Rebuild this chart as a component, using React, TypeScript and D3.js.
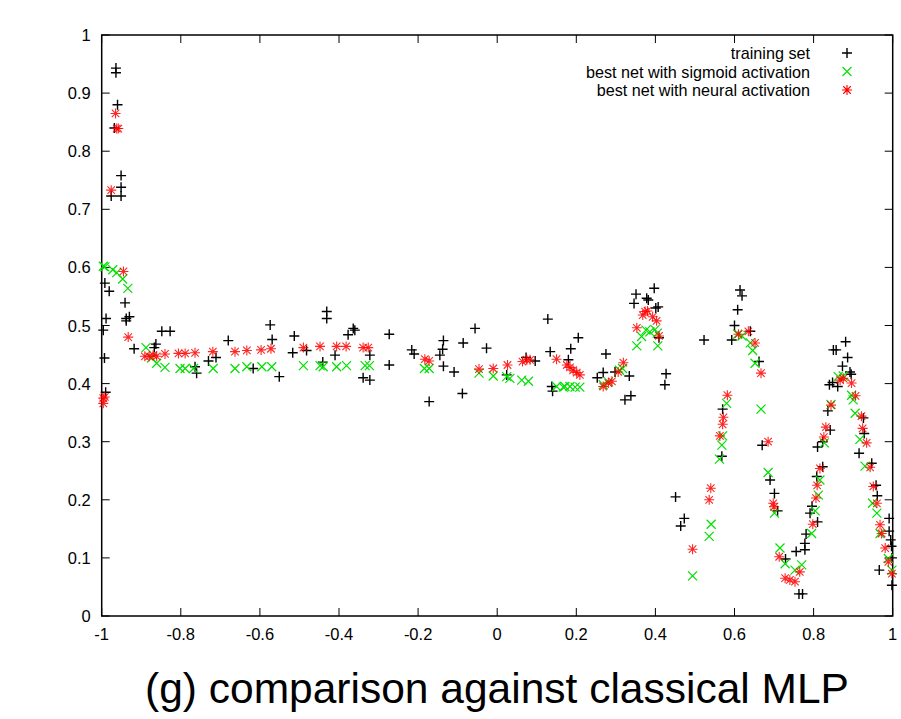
import { useEffect, useRef } from 'react';
import * as d3 from 'd3';

// training set (black +)
const trainingSet: [number, number][] = [
  [-0.964, 0.943], [-0.964, 0.935], [-0.960, 0.880], [-0.968, 0.840], [-0.951, 0.758], [-0.951, 0.738],
  [-0.976, 0.723], [-0.951, 0.723], [-0.992, 0.573], [-0.981, 0.559], [-0.941, 0.539], [-0.989, 0.512],
  [-0.938, 0.512], [-0.930, 0.515], [-0.938, 0.508], [-0.996, 0.492], [-0.918, 0.460], [-0.993, 0.444],
  [-0.990, 0.385], [-0.848, 0.490], [-0.827, 0.490], [-0.863, 0.468], [-0.867, 0.462], [-0.764, 0.429],
  [-0.760, 0.418], [-0.730, 0.439], [-0.711, 0.445], [-0.680, 0.474], [-0.617, 0.426], [-0.574, 0.501],
  [-0.569, 0.476], [-0.551, 0.412], [-0.513, 0.482], [-0.517, 0.453], [-0.482, 0.457], [-0.441, 0.437],
  [-0.431, 0.524], [-0.431, 0.512], [-0.410, 0.449], [-0.377, 0.484], [-0.364, 0.495], [-0.360, 0.492],
  [-0.339, 0.410], [-0.322, 0.406], [-0.322, 0.449], [-0.273, 0.485], [-0.273, 0.432], [-0.216, 0.458],
  [-0.210, 0.451], [-0.172, 0.369], [-0.136, 0.474], [-0.138, 0.459], [-0.145, 0.449], [-0.136, 0.430],
  [-0.109, 0.420], [-0.086, 0.470], [-0.088, 0.383], [-0.056, 0.495], [-0.027, 0.461], [0.024, 0.415],
  [0.073, 0.445], [0.096, 0.439], [0.128, 0.511], [0.134, 0.455], [0.138, 0.395], [0.140, 0.387],
  [0.186, 0.460], [0.205, 0.479], [0.180, 0.441], [0.253, 0.410], [0.275, 0.451], [0.268, 0.419],
  [0.298, 0.420], [0.334, 0.413], [0.323, 0.372], [0.338, 0.379], [0.346, 0.538], [0.351, 0.554],
  [0.378, 0.547], [0.382, 0.544], [0.397, 0.564], [0.401, 0.530], [0.407, 0.532], [0.409, 0.479],
  [0.427, 0.417], [0.424, 0.398], [0.451, 0.205], [0.473, 0.168], [0.464, 0.155],
  [0.523, 0.475], [0.593, 0.475], [0.600, 0.500], [0.608, 0.527], [0.614, 0.561], [0.619, 0.551],
  [0.640, 0.490], [0.662, 0.438], [0.670, 0.294], [0.570, 0.356], [0.568, 0.275], [0.690, 0.234],
  [0.701, 0.211], [0.709, 0.181], [0.729, 0.098], [0.756, 0.111], [0.778, 0.114], [0.778, 0.125],
  [0.781, 0.141], [0.763, 0.038], [0.772, 0.038], [0.810, 0.162], [0.791, 0.177], [0.796, 0.189],
  [0.808, 0.240], [0.823, 0.257], [0.810, 0.291], [0.823, 0.300], [0.836, 0.353], [0.842, 0.320],
  [0.840, 0.398], [0.848, 0.402], [0.850, 0.458], [0.857, 0.458], [0.881, 0.472], [0.886, 0.445],
  [0.873, 0.430], [0.892, 0.420], [0.895, 0.416], [0.861, 0.395], [0.915, 0.280], [0.926, 0.341],
  [0.928, 0.314], [0.947, 0.263], [0.958, 0.225], [0.961, 0.207], [0.991, 0.168], [0.991, 0.146],
  [0.995, 0.131], [0.966, 0.079], [0.998, 0.053], [0.997, 0.120], [0.998, 0.100],
];

// best net with sigmoid activation (green x)
const sigmoidNet: [number, number][] = [
  [-0.996, 0.602], [-0.992, 0.601], [-0.972, 0.596], [-0.962, 0.591], [-0.947, 0.580], [-0.934, 0.564],
  [-0.888, 0.462], [-0.874, 0.444], [-0.861, 0.435], [-0.840, 0.428], [-0.802, 0.426], [-0.789, 0.426],
  [-0.768, 0.426], [-0.718, 0.426], [-0.663, 0.426], [-0.633, 0.429], [-0.595, 0.429], [-0.570, 0.429],
  [-0.490, 0.431], [-0.448, 0.431], [-0.440, 0.429], [-0.406, 0.429], [-0.381, 0.431], [-0.334, 0.431],
  [-0.323, 0.431], [-0.184, 0.426], [-0.172, 0.426], [-0.046, 0.418], [-0.010, 0.413], [0.024, 0.412],
  [0.032, 0.409], [0.062, 0.406], [0.079, 0.404], [0.150, 0.395], [0.167, 0.394], [0.171, 0.395],
  [0.184, 0.395], [0.197, 0.394], [0.209, 0.394], [0.268, 0.398], [0.281, 0.403], [0.309, 0.423],
  [0.317, 0.426], [0.353, 0.465], [0.365, 0.481], [0.376, 0.492], [0.386, 0.489], [0.399, 0.493],
  [0.405, 0.487], [0.406, 0.465], [0.608, 0.485], [0.619, 0.482], [0.640, 0.470], [0.646, 0.457],
  [0.652, 0.435], [0.667, 0.356], [0.580, 0.366], [0.570, 0.310], [0.568, 0.294], [0.562, 0.270],
  [0.541, 0.158], [0.536, 0.137], [0.494, 0.069], [0.685, 0.247], [0.701, 0.177], [0.715, 0.117],
  [0.728, 0.090], [0.753, 0.079], [0.770, 0.088], [0.795, 0.142], [0.804, 0.181], [0.812, 0.208],
  [0.816, 0.234], [0.827, 0.298], [0.844, 0.364], [0.862, 0.412], [0.875, 0.413], [0.896, 0.380],
  [0.900, 0.372], [0.905, 0.349], [0.917, 0.304], [0.930, 0.258], [0.949, 0.194], [0.960, 0.177],
  [0.968, 0.142], [0.989, 0.099], [0.998, 0.079],
];

// best net with neural activation (red *)
const neuralNet: [number, number][] = [
  [-0.965, 0.865], [-0.958, 0.839], [-0.962, 0.839], [-0.976, 0.733], [-0.996, 0.375], [-0.996, 0.366],
  [-0.992, 0.377], [-0.945, 0.593], [-0.933, 0.480], [-0.891, 0.447], [-0.880, 0.447], [-0.870, 0.449],
  [-0.861, 0.447], [-0.840, 0.451], [-0.806, 0.452], [-0.789, 0.452], [-0.764, 0.453], [-0.719, 0.455],
  [-0.663, 0.455], [-0.633, 0.457], [-0.597, 0.458], [-0.572, 0.460], [-0.490, 0.462], [-0.448, 0.464],
  [-0.406, 0.464], [-0.382, 0.464], [-0.339, 0.462], [-0.326, 0.462], [-0.183, 0.442], [-0.172, 0.439],
  [-0.046, 0.425], [-0.010, 0.426], [0.026, 0.432], [0.064, 0.438], [0.075, 0.441], [0.083, 0.441],
  [0.150, 0.442], [0.176, 0.432], [0.184, 0.428], [0.192, 0.423], [0.201, 0.419], [0.209, 0.415],
  [0.268, 0.395], [0.281, 0.401], [0.290, 0.404], [0.306, 0.420], [0.319, 0.436], [0.353, 0.496],
  [0.368, 0.518], [0.374, 0.524], [0.380, 0.525], [0.393, 0.515], [0.403, 0.508], [0.409, 0.482],
  [0.582, 0.380], [0.572, 0.342], [0.570, 0.330], [0.563, 0.310], [0.540, 0.220], [0.536, 0.200],
  [0.494, 0.115], [0.685, 0.300], [0.698, 0.194], [0.700, 0.188], [0.713, 0.102], [0.728, 0.065],
  [0.740, 0.062], [0.753, 0.059], [0.765, 0.076], [0.610, 0.485], [0.635, 0.490], [0.652, 0.470],
  [0.667, 0.418], [0.798, 0.158], [0.806, 0.203], [0.809, 0.225], [0.816, 0.254], [0.826, 0.308],
  [0.831, 0.325], [0.844, 0.363], [0.867, 0.406], [0.875, 0.409], [0.896, 0.401], [0.906, 0.379],
  [0.921, 0.344], [0.924, 0.323], [0.934, 0.298], [0.943, 0.256], [0.951, 0.223], [0.960, 0.194],
  [0.968, 0.157], [0.972, 0.142], [0.981, 0.117], [0.989, 0.093], [0.998, 0.073],
];

const xTicks = [-1, -0.8, -0.6, -0.4, -0.2, 0, 0.2, 0.4, 0.6, 0.8, 1];
const yTicks = [0, 0.1, 0.2, 0.3, 0.4, 0.5, 0.6, 0.7, 0.8, 0.9, 1];
const legendLabels = ['training set', 'best net with sigmoid activation', 'best net with neural activation'];
const caption = '(g) comparison against classical MLP';

const width = 901;
const height = 719;
const font = '"Liberation Sans", Arial, Helvetica, sans-serif';

const App = () => {
  const svgRef = useRef<SVGSVGElement | null>(null);

  useEffect(() => {
    document.body.style.margin = '0';
    const svg = d3.select(svgRef.current);
    svg.selectAll('*').remove();

    const x = d3.scaleLinear().domain([-1, 1]).range([101.7, 892.7]);
    const y = d3.scaleLinear().domain([0, 1]).range([616, 35]);
    const tickLen = 8;

    const g = svg.append('g');

    // ticks (inward, mirrored like gnuplot)
    g.selectAll('.xt')
      .data(xTicks)
      .enter()
      .append('path')
      .attr('d', d => `M${x(d)},${y(0)}v${-tickLen}M${x(d)},${y(1)}v${tickLen}`)
      .attr('stroke', '#000')
      .attr('stroke-width', 1);
    g.selectAll('.yt')
      .data(yTicks)
      .enter()
      .append('path')
      .attr('d', d => `M${x(-1)},${y(d)}h${tickLen}M${x(1)},${y(d)}h${-tickLen}`)
      .attr('stroke', '#000')
      .attr('stroke-width', 1);

    // border
    g.append('rect')
      .attr('x', x(-1))
      .attr('y', y(1))
      .attr('width', x(1) - x(-1))
      .attr('height', y(0) - y(1))
      .attr('fill', 'none')
      .attr('stroke', '#000')
      .attr('stroke-width', 1.5);

    // tick labels (plain hyphen minus, like gnuplot)
    g.selectAll('.xl')
      .data(xTicks)
      .enter()
      .append('text')
      .attr('x', d => x(d))
      .attr('y', y(0) + 24)
      .attr('text-anchor', 'middle')
      .style('font-family', font)
      .style('font-size', '16.5px')
      .text(d => String(d));
    g.selectAll('.yl')
      .data(yTicks)
      .enter()
      .append('text')
      .attr('x', x(-1) - 11)
      .attr('y', d => y(d) + 6)
      .attr('text-anchor', 'end')
      .style('font-family', font)
      .style('font-size', '16.5px')
      .text(d => String(d));

    const plus = (s: number) => `M${-s},0h${2 * s}M0,${-s}v${2 * s}`;
    const cross = (s: number) => `M${-s},${-s}l${2 * s},${2 * s}M${-s},${s}l${2 * s},${-2 * s}`;
    const star = (s: number) => plus(s) + cross(s * 0.75);

    const drawSeries = (data: [number, number][], shape: string, color: string, sw: number, op: number) => {
      g.append('g')
        .selectAll('path')
        .data(data)
        .enter()
        .append('path')
        .attr('transform', d => `translate(${x(d[0])},${y(d[1])})`)
        .attr('d', shape)
        .attr('fill', 'none')
        .attr('stroke', color)
        .attr('stroke-width', sw)
        .attr('opacity', op);
    };

    drawSeries(trainingSet, plus(5), '#000', 1.4, 1);
    drawSeries(sigmoidNet, cross(4.5), '#00e000', 1.2, 1);
    drawSeries(neuralNet, star(5), '#ff0000', 1.1, 0.85);

    // legend
    const shapes = [plus(5), cross(4.5), star(5)];
    const colors = ['#000', '#00e000', '#ff0000'];
    legendLabels.forEach((label, i) => {
      const ly = 53 + i * 18.5;
      g.append('text')
        .attr('x', 810)
        .attr('y', ly + 6)
        .attr('text-anchor', 'end')
        .style('font-family', font)
        .style('font-size', '16.2px')
        .text(label);
      g.append('path')
        .attr('transform', `translate(847,${ly})`)
        .attr('d', shapes[i])
        .attr('fill', 'none')
        .attr('stroke', colors[i])
        .attr('stroke-width', i === 0 ? 1.4 : 1.1);
    });

    // caption
    svg.append('text')
      .attr('x', 497)
      .attr('y', 703)
      .attr('text-anchor', 'middle')
      .style('font-family', font)
      .style('font-size', '42.5px')
      .text(caption);
  }, []);

  return <svg ref={svgRef} width={width} height={height} style={{ display: 'block', background: '#fff' }} />;
};

export default App;
